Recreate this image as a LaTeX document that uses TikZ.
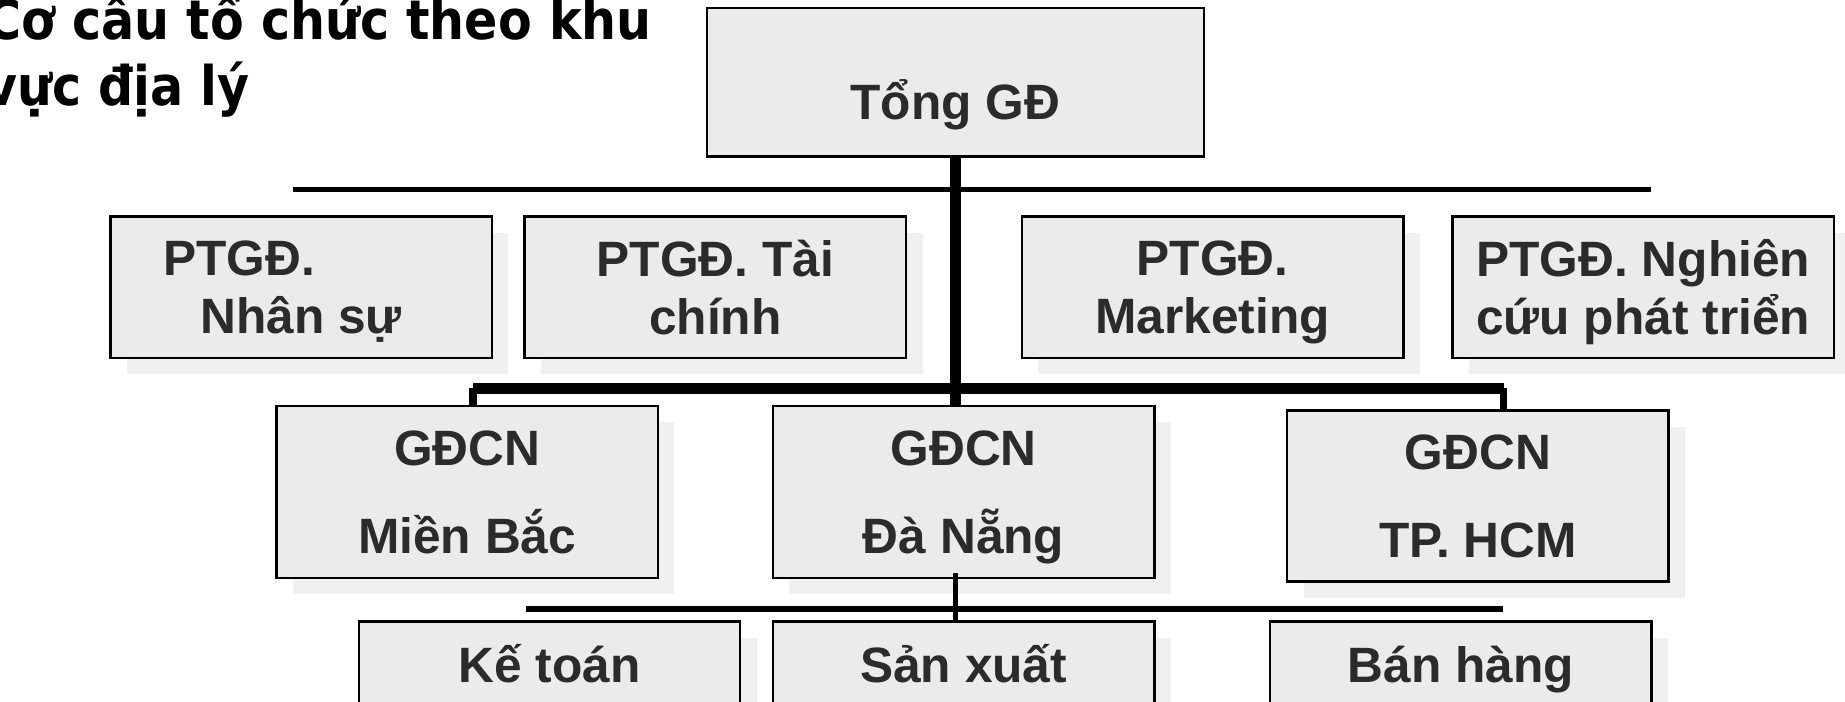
\documentclass[tikz,border=0pt]{standalone}
\usepackage{fontspec}
\setmainfont{Liberation Sans}
\newfontfamily\titlefont{DejaVu Sans Condensed}
\usetikzlibrary{shadows}
\definecolor{boxgray}{HTML}{EBEBEB}
\definecolor{shadowgray}{HTML}{F0F0F0}
\definecolor{textgray}{HTML}{2B2B2B}

\begin{document}
\begin{tikzpicture}[x=0.01cm, y=-0.01cm,
    boxtext/.style={text=textgray, inner sep=0pt, align=center,
        font=\fontsize{12}{13.9}\selectfont\bfseries},
    unit/.style={boxtext, draw=black, line width=0.6pt, fill=boxgray,
        minimum width=3.24cm, minimum height=1.2cm, text depth=-1.4pt},
    oneline/.style={text height=8.6pt, text depth=0pt},
    withshadow/.style={drop shadow={shadow xshift=0.14cm, shadow yshift=-0.14cm,
        fill=shadowgray, opacity=1}},
    title/.style={anchor=base west, inner sep=0pt,
        font=\titlefont\fontsize{13.2}{15}\selectfont\bfseries}]
    \useasboundingbox (0,0) rectangle (1568,596);
    \clip (0,0) rectangle (1568,596);

    \node[title] (title1) at (-13,33.5) {Cơ cấu tổ chức theo khu};
    \node[title] (title2) at (-13,90) {vực địa lý};

    % top
    \node[unit, minimum width=4.22cm, minimum height=1.26cm] (tong) at (812,70) {};
    \node[boxtext, oneline] (tongtext) at ([yshift=-0.16cm]tong.center) {Tổng GĐ};

    % deputies
    \node[unit, withshadow] (nhansu) at (256,244) {PTGĐ.\rule{2.5em}{0pt}\\Nhân sự};
    \node[unit, withshadow] (taichinh) at (608,244) {PTGĐ. Tài\\chính};
    \node[unit, withshadow] (marketing) at (1030.5,244) {PTGĐ.\\Marketing};
    \node[unit, withshadow] (nghiencuu) at (1396.5,244) {PTGĐ. Nghiên\\cứu phát triển};

    % branches
    \node[unit, withshadow, minimum height=1.46cm] (mienbac) at (397,418) {GĐCN\\[7.4pt]Miền Bắc};
    \node[unit, withshadow, minimum height=1.46cm] (danang) at (819,418) {GĐCN\\[7.4pt]Đà Nẵng};
    \node[unit, withshadow, minimum height=1.45cm] (hcm) at (1256,421.5) {GĐCN\\[7.4pt]TP. HCM};

    % departments
    \node[unit, withshadow, oneline, minimum height=0.74cm] (ketoan) at (467,565) {Kế toán};
    \node[unit, withshadow, oneline, minimum height=0.74cm] (sanxuat) at (819,565) {Sản xuất};
    \node[unit, withshadow, oneline, minimum height=0.74cm] (banhang) at (1241.5,565) {Bán hàng};

    \coordinate (topL) at (249,161);
    \coordinate (topR) at (1403,161);
    \draw[black, line width=1.2pt] (topL) -- (topR);
    \draw[black, line width=2.7pt] (tong.south) -- (tong.south |- danang.north);

    \coordinate (barL) at (402,330);
    \coordinate (barR) at (1278,330);
    \draw[black, line width=2.8pt] (barL) -- (barR);
    \draw[black, line width=1.8pt] (barL) -- (barL |- mienbac.north);
    \draw[black, line width=1.8pt] (barR) -- (barR |- hcm.north);

    \coordinate (dnfoot) at (tong.south |- danang.south);
    \coordinate (lowL) at (447,517.5);
    \coordinate (lowR) at (1277,517.5);
    \draw[black, line width=1.4pt] ([yshift=0.05cm]dnfoot) -- (dnfoot |- sanxuat.north);
    \draw[black, line width=1.6pt] (lowL) -- (lowR);
\end{tikzpicture}
\end{document}
